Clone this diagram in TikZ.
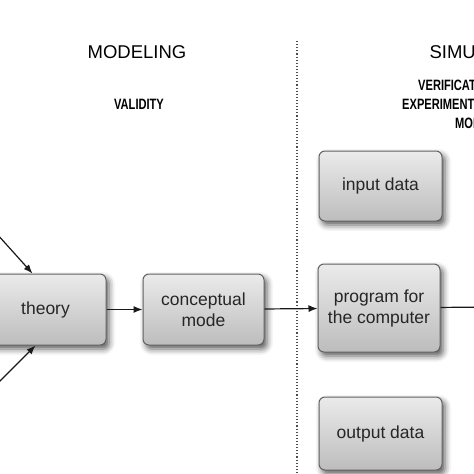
\documentclass[tikz,border=0pt]{standalone}
\usepackage{fontspec}
\setmainfont{Liberation Sans}
\newfontfamily\headfont[FakeStretch=0.74]{Liberation Sans}
\usetikzlibrary{positioning}
\usetikzlibrary{arrows.meta,shadows.blur}
\usetikzlibrary{calc}
\tikzstyle{stage}=[rectangle,rounded corners=6pt,draw=black!62,line width=1pt,top color=black!8,bottom color=black!26,text=black!85,align=center,font=\fontsize{17.5}{21}\selectfont,blur shadow={shadow xshift=3pt,shadow yshift=-4pt,shadow blur radius=6pt,shadow opacity=65}]
\tikzstyle{title}=[font=\fontsize{18.5}{22}\selectfont,text=black]
\tikzstyle{sub}=[font=\headfont\bfseries\fontsize{15}{19}\selectfont,text=black,inner sep=0pt]
\tikzstyle{flow}=[-{Latex[length=9pt,width=7pt]},line width=1.2pt,black!90]

\begin{document}
\begin{tikzpicture}[x=1pt,y=-1pt]
\useasboundingbox (0,0) rectangle (474,474);

%headings
    \node[title] (model) at (137,52) {MODELING};
    \node[title,anchor=west] (simul) at (426,52) {SIMULATION};
    \node[sub] (valid) at (139,104) {VALIDITY};
    \node[sub,anchor=west] (verif) at (418,85) {VERIFICATION};
    \node[sub,anchor=west] (exper) at (402,104) {EXPERIMENTATION};
    \node[sub,anchor=west] (mods) at (455,123) {MODELS};

%divider
    \coordinate (divtop) at (297,41);
    \coordinate (divbot) at (297,474);
    \draw[dotted, line width=1.1pt, black!70] (divtop) -- (divbot);

%boxes
    \foreach \pos/\name/\w/\h/\label in {{(45.5,309.5)/theory/121/71/theory}, {(203.5,309.5)/concept/121/71/{conceptual\\mode}}, {(380.5,186)/input/123/70/input data}, {(379,308)/program/122/88/{program for\\the computer}}, {(380.5,433.5)/output/123/73/output data}}
        \node[stage, minimum width=\w pt, minimum height=\h pt] (\name) at \pos {\label};

%arrows
    \coordinate (srcA) at (-30,204);
    \coordinate (srcB) at (-30,411);
    \coordinate (next) at (490,307);
    \draw[flow] (srcA) -- ([xshift=48pt]theory.north west);
    \draw[flow] (srcB) -- ([xshift=51pt]theory.south west);
    \foreach \source/\dest in {theory/concept, concept/program}
        \draw[flow] (\source) -- (\dest);
    \draw[line width=1.2pt, black!90] (program) -- (next);

\end{tikzpicture}
\end{document}
